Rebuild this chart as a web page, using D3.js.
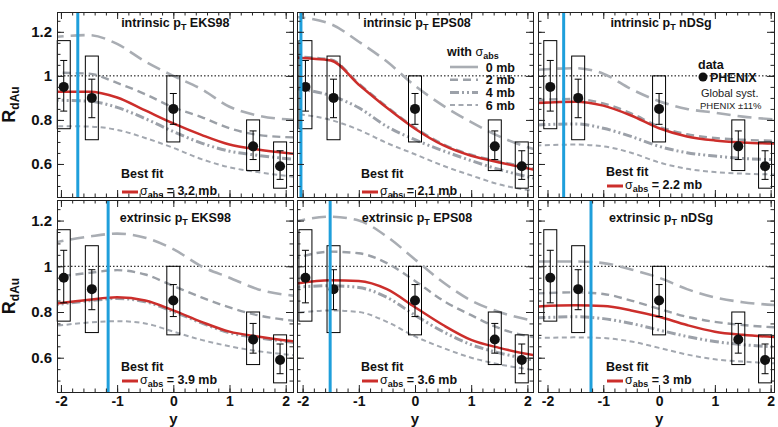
<!DOCTYPE html>
<html>
<head>
<meta charset="utf-8">
<script src="https://cdn.jsdelivr.net/npm/d3@7"></script>
<style>
  body { margin: 0; background: #fff; }
  svg { display: block; font-family: "Liberation Sans", Arial, sans-serif; }
</style>
</head>
<body>
<svg id="chart" width="778" height="427"></svg>
<script>
// PHENIX points (same in every panel)
const ptY = [-1.95, -1.45, 0, 1.42, 1.9];
const ptR = [0.95, 0.90, 0.85, 0.68, 0.59];
const statLo = [0.84, 0.81, 0.78, 0.62, 0.53];
const statHi = [1.07, 0.985, 0.92, 0.75, 0.66];
const sysLo = [0.76, 0.71, 0.70, 0.57, 0.49];
const sysHi = [1.16, 1.09, 1.00, 0.80, 0.70];

// rapidity values where the model curves were read (ends = panel edges)
const gridY = [-2.2, -1.5, -1, -0.5, 0, 0.5, 1, 1.5, 2.2];

const pTkind = ["intrinsic", "intrinsic", "intrinsic", "extrinsic", "extrinsic", "extrinsic"];
const shadowing = ["EKS98", "EPS08", "nDSg", "EKS98", "EPS08", "nDSg"];
const fitSigma = ["3.2", "2.1", "2.2", "3.9", "3.6", "3"];
const blueLineY = [-1.70, -2.03, -1.71, -1.16, -1.51, -1.22];

const legendLabels = ["0 mb", "2 mb", "4 mb", "6 mb"];
const yTicks = [0.6, 0.8, 1, 1.2];
const xTicks = [-2, -1, 0, 1, 2];

// model curves, one row per panel
const curve0mb = [
  [1.175, 1.185, 1.145, 1.065, 1.0, 0.94, 0.86, 0.82, 0.80],
  [1.27, 1.235, 1.155, 1.065, 0.955, 0.865, 0.79, 0.725, 0.66],
  [1.027, 1.035, 1.01, 0.94, 0.885, 0.85, 0.833, 0.815, 0.80],
  [1.10, 1.13, 1.143, 1.125, 1.075, 1.0, 0.95, 0.90, 0.87],
  [1.193, 1.217, 1.2, 1.13, 1.03, 0.93, 0.85, 0.80, 0.757],
  [1.021, 1.021, 1.014, 0.986, 0.95, 0.90, 0.864, 0.843, 0.829]
];
const curve2mb = [
  [1.015, 1.01, 0.968, 0.917, 0.857, 0.813, 0.762, 0.732, 0.72],
  [1.088, 1.075, 0.965, 0.86, 0.765, 0.69, 0.642, 0.612, 0.575],
  [0.89, 0.895, 0.875, 0.83, 0.77, 0.735, 0.718, 0.71, 0.705],
  [0.95, 0.971, 0.983, 0.964, 0.914, 0.864, 0.82, 0.786, 0.76],
  [1.029, 1.064, 1.057, 1.014, 0.936, 0.85, 0.786, 0.729, 0.686],
  [0.881, 0.886, 0.879, 0.85, 0.814, 0.779, 0.757, 0.743, 0.731]
];
const curve4mb = [
  [0.89, 0.885, 0.857, 0.806, 0.747, 0.695, 0.658, 0.639, 0.62],
  [0.945, 0.91, 0.855, 0.77, 0.71, 0.66, 0.615, 0.575, 0.53],
  [0.777, 0.782, 0.762, 0.725, 0.68, 0.651, 0.636, 0.625, 0.619],
  [0.828, 0.849, 0.859, 0.845, 0.802, 0.752, 0.709, 0.688, 0.665],
  [0.907, 0.915, 0.907, 0.864, 0.786, 0.714, 0.657, 0.621, 0.586],
  [0.774, 0.779, 0.771, 0.75, 0.721, 0.693, 0.671, 0.657, 0.646]
];
const curve6mb = [
  [0.772, 0.77, 0.755, 0.718, 0.673, 0.622, 0.585, 0.563, 0.54],
  [0.83, 0.80, 0.755, 0.695, 0.644, 0.592, 0.548, 0.507, 0.475],
  [0.684, 0.688, 0.68, 0.651, 0.607, 0.578, 0.563, 0.556, 0.552],
  [0.736, 0.754, 0.76, 0.75, 0.714, 0.678, 0.65, 0.629, 0.61],
  [0.793, 0.807, 0.80, 0.757, 0.693, 0.643, 0.60, 0.571, 0.543],
  [0.686, 0.689, 0.686, 0.671, 0.643, 0.614, 0.593, 0.583, 0.574]
];
const curveFit = [
  [0.928, 0.928, 0.902, 0.843, 0.784, 0.732, 0.688, 0.666, 0.645],
  [1.083, 1.07, 0.96, 0.855, 0.76, 0.685, 0.637, 0.607, 0.57],
  [0.877, 0.883, 0.865, 0.82, 0.762, 0.725, 0.707, 0.698, 0.692],
  [0.833, 0.854, 0.864, 0.85, 0.807, 0.757, 0.714, 0.693, 0.67],
  [0.921, 0.939, 0.936, 0.90, 0.821, 0.743, 0.678, 0.643, 0.607],
  [0.824, 0.829, 0.826, 0.807, 0.779, 0.743, 0.714, 0.70, 0.689]
];

// line styles for the four sigma_abs curves
const styles = [
  {color: "#a9adb3", width: 2.6, dash: "14,7"},
  {color: "#9ba0a7", width: 2.4, dash: "8,5"},
  {color: "#9ca1a9", width: 3, dash: "9,3,2,3,2,3"},
  {color: "#a3a8b0", width: 2, dash: "5,3.5"}
];
const red = "#cc2e2b", blue = "#1f9fdb";

const svg = d3.select("#chart");
const colX = [57, 297, 538], panelW = 236;
// the three columns are not drawn with quite the same y range
const colDomain = [[-2.07, 2.13], [-2.1, 2.1], [-2.17, 2.06]];
const rows = [{top: 12, h: 185}, {top: 200, h: 192}];

for (let p = 0; p < 6; p++) {
  const col = p % 3, row = Math.floor(p / 3);
  const x0 = colX[col], y0 = rows[row].top, h = rows[row].h;
  const x = d3.scaleLinear().domain(colDomain[col]).range([0, panelW]);
  const y = d3.scaleLinear().domain([0.45, 1.29]).range([h, 0]);
  const g = svg.append("g").attr("transform", `translate(${x0},${y0})`);

  svg.append("clipPath").attr("id", "clip" + p)
    .append("rect").attr("width", panelW).attr("height", h);
  const inner = g.append("g").attr("clip-path", `url(#clip${p})`);

  // dotted line at 1
  inner.append("line")
      .attr("x1", 0).attr("x2", panelW)
      .attr("y1", y(1)).attr("y2", y(1))
      .attr("stroke", "#000").attr("stroke-width", 1)
      .attr("stroke-dasharray", "1.5,2");

  // model curves
  const line = d3.line()
      .x((d, i) => x(gridY[i]))
      .y(d => y(d))
      .curve(d3.curveMonotoneX);
  [curve0mb, curve2mb, curve4mb, curve6mb].forEach((c, k) => {
    inner.append("path")
        .datum(c[p])
        .attr("fill", "none")
        .attr("stroke", styles[k].color)
        .attr("stroke-width", styles[k].width)
        .attr("stroke-dasharray", styles[k].dash)
        .attr("d", line);
  });
  inner.append("path")
      .datum(curveFit[p])
      .attr("fill", "none")
      .attr("stroke", red)
      .attr("stroke-width", 2.5)
      .attr("d", line);

  // systematic boxes, stat bars and points
  const pts = ptY.map((v, i) => ({y: v, r: ptR[i], lo: statLo[i], hi: statHi[i], slo: sysLo[i], shi: sysHi[i]}));
  const pg = g.append("g").attr("stroke", "#000").attr("stroke-width", 1);
  pg.selectAll("rect").data(pts).join("rect")
      .attr("x", d => x(d.y) - 6.5).attr("width", 13)
      .attr("y", d => y(d.shi)).attr("height", d => y(d.slo) - y(d.shi))
      .attr("fill", "none");
  pg.selectAll("line.err").data(pts).join("line").attr("class", "err")
      .attr("x1", d => x(d.y)).attr("x2", d => x(d.y))
      .attr("y1", d => y(d.lo)).attr("y2", d => y(d.hi));
  pg.selectAll("line.caplo").data(pts).join("line").attr("class", "caplo")
      .attr("x1", d => x(d.y) - 3.5).attr("x2", d => x(d.y) + 3.5)
      .attr("y1", d => y(d.lo)).attr("y2", d => y(d.lo));
  pg.selectAll("line.caphi").data(pts).join("line").attr("class", "caphi")
      .attr("x1", d => x(d.y) - 3.5).attr("x2", d => x(d.y) + 3.5)
      .attr("y1", d => y(d.hi)).attr("y2", d => y(d.hi));
  g.selectAll("circle").data(pts).join("circle")
      .attr("cx", d => x(d.y)).attr("cy", d => y(d.r)).attr("r", 5)
      .attr("fill", "#111");

  // blue vertical line
  g.append("line")
      .attr("x1", x(blueLineY[p])).attr("x2", x(blueLineY[p]))
      .attr("y1", 0).attr("y2", h)
      .attr("stroke", blue).attr("stroke-width", 3);

  // frame with inward ticks on all sides
  const minorX = d3.range(-2, 2.01, 0.2).map(v => +v.toFixed(1));
  const minorY = d3.range(0.5, 1.26, 0.05).map(v => +v.toFixed(2));
  const axes = [
    {ax: d3.axisBottom, sc: x, tr: `translate(0,${h})`, minor: minorX, major: xTicks},
    {ax: d3.axisTop, sc: x, tr: "translate(0,0)", minor: minorX, major: xTicks},
    {ax: d3.axisLeft, sc: y, tr: "translate(0,0)", minor: minorY, major: yTicks},
    {ax: d3.axisRight, sc: y, tr: `translate(${panelW},0)`, minor: minorY, major: yTicks}
  ];
  axes.forEach((a, k) => {
    const showLabels = (k === 0 && row === 1) || (k === 2 && col === 0);
    g.append("g").attr("transform", a.tr)
        .call(a.ax(a.sc).tickValues(a.minor).tickSize(-3.5).tickFormat(""));
    const gm = g.append("g").attr("transform", a.tr)
        .call(a.ax(a.sc).tickValues(a.major).tickSize(-7).tickPadding(k === 0 ? 4 : 5)
          .tickFormat(showLabels ? (d => String(d)) : ""));
    gm.selectAll("text")
        .attr("fill", "#111")
        .style("font-size", k === 0 ? "14px" : "15px").style("font-weight", "bold")
        .style("font-family", '"Liberation Sans", Arial, sans-serif');
  });
  g.selectAll(".domain").attr("stroke", "#222");
  g.selectAll(".tick line").attr("stroke", "#222");

  // panel title
  const t = g.append("text")
      .attr("x", x(0) + 2).attr("y", row === 0 ? 15 : 22)
      .attr("text-anchor", "middle")
      .style("font-size", "12.5px").style("font-weight", "bold").attr("fill", "#111");
  t.append("tspan").text(pTkind[p] + " p");
  t.append("tspan").attr("dy", 3).style("font-size", "9px").text("T");
  t.append("tspan").attr("dy", -3).text(" " + shadowing[p]);

  // best fit label
  const bx = col === 2 ? 68 : 64;
  const by1 = row === 0 ? (col === 2 ? 164 : 166) : 171;
  const by2 = row === 0 ? (col === 2 ? 177 : 183) : 184;
  g.append("text").attr("x", bx).attr("y", by1)
      .style("font-size", "12.5px").style("font-weight", "bold").attr("fill", "#111")
      .text("Best fit");
  g.append("line")
      .attr("x1", bx + 1).attr("x2", bx + 17)
      .attr("y1", by2 - 3).attr("y2", by2 - 3)
      .attr("stroke", red).attr("stroke-width", 3);
  const s = g.append("text").attr("x", bx + 19).attr("y", by2)
      .style("font-size", "12.5px").style("font-weight", "bold").attr("fill", "#111");
  s.append("tspan").style("font-weight", "normal").text("σ");
  s.append("tspan").attr("dy", 3).style("font-size", "9px").text("abs");
  s.append("tspan").attr("dy", -3).text(" = " + fitSigma[p] + " mb");

  // legend for the sigma_abs curves
  if (p === 1) {
    const lg = g.append("g").attr("transform", "translate(150,0)");
    const w = lg.append("text").attr("x", 0).attr("y", 44)
        .style("font-size", "12.5px").style("font-weight", "bold").attr("fill", "#111");
    w.append("tspan").text("with ");
    w.append("tspan").style("font-weight", "normal").text("σ");
    w.append("tspan").attr("dy", 3).style("font-size", "9px").text("abs");
    legendLabels.forEach((lab, k) => {
      const ly = 55 + k * 12.7;
      lg.append("line").attr("x1", 3).attr("x2", 31).attr("y1", ly).attr("y2", ly)
          .attr("stroke", styles[k].color).attr("stroke-width", styles[k].width)
          .attr("stroke-dasharray", k === 0 ? null : styles[k].dash);
      lg.append("text").attr("x", 68).attr("y", ly + 4.5).attr("text-anchor", "end")
          .style("font-size", "12.5px").style("font-weight", "bold").attr("fill", "#111")
          .text(lab);
    });
  }
  // data legend
  if (p === 2) {
    const dg = g.append("g").attr("transform", "translate(159,0)");
    dg.append("text").attr("x", 1).attr("y", 57)
        .style("font-size", "12.5px").style("font-weight", "bold").attr("fill", "#111").text("data");
    dg.append("circle").attr("cx", 6).attr("cy", 65).attr("r", 4.5).attr("fill", "#111");
    dg.append("text").attr("x", 13).attr("y", 70)
        .style("font-size", "12.5px").style("font-weight", "bold").attr("fill", "#111").text("PHENIX");
    dg.append("text").attr("x", 4).attr("y", 85)
        .style("font-size", "11px").attr("fill", "#222").text("Global syst.");
    dg.append("text").attr("x", 3).attr("y", 97)
        .style("font-size", "9.5px").attr("fill", "#222").text("PHENIX ±11%");
  }

  // x axis title on the bottom row
  if (row === 1) {
    g.append("text").attr("x", x(0)).attr("y", h + 31.5)
        .attr("text-anchor", "middle")
        .style("font-size", "15px").style("font-weight", "bold").attr("fill", "#111")
        .text("y");
  }
  // y axis title on the left column
  if (col === 0) {
    const r = g.append("text")
        .attr("transform", `translate(-42,${y(0.87)}) rotate(-90)`)
        .attr("text-anchor", "middle")
        .style("font-size", "18px").style("font-weight", "bold").attr("fill", "#111");
    r.append("tspan").text("R");
    r.append("tspan").attr("dy", 4).style("font-size", "12px").text("dAu");
  }
}
</script>
</body>
</html>
